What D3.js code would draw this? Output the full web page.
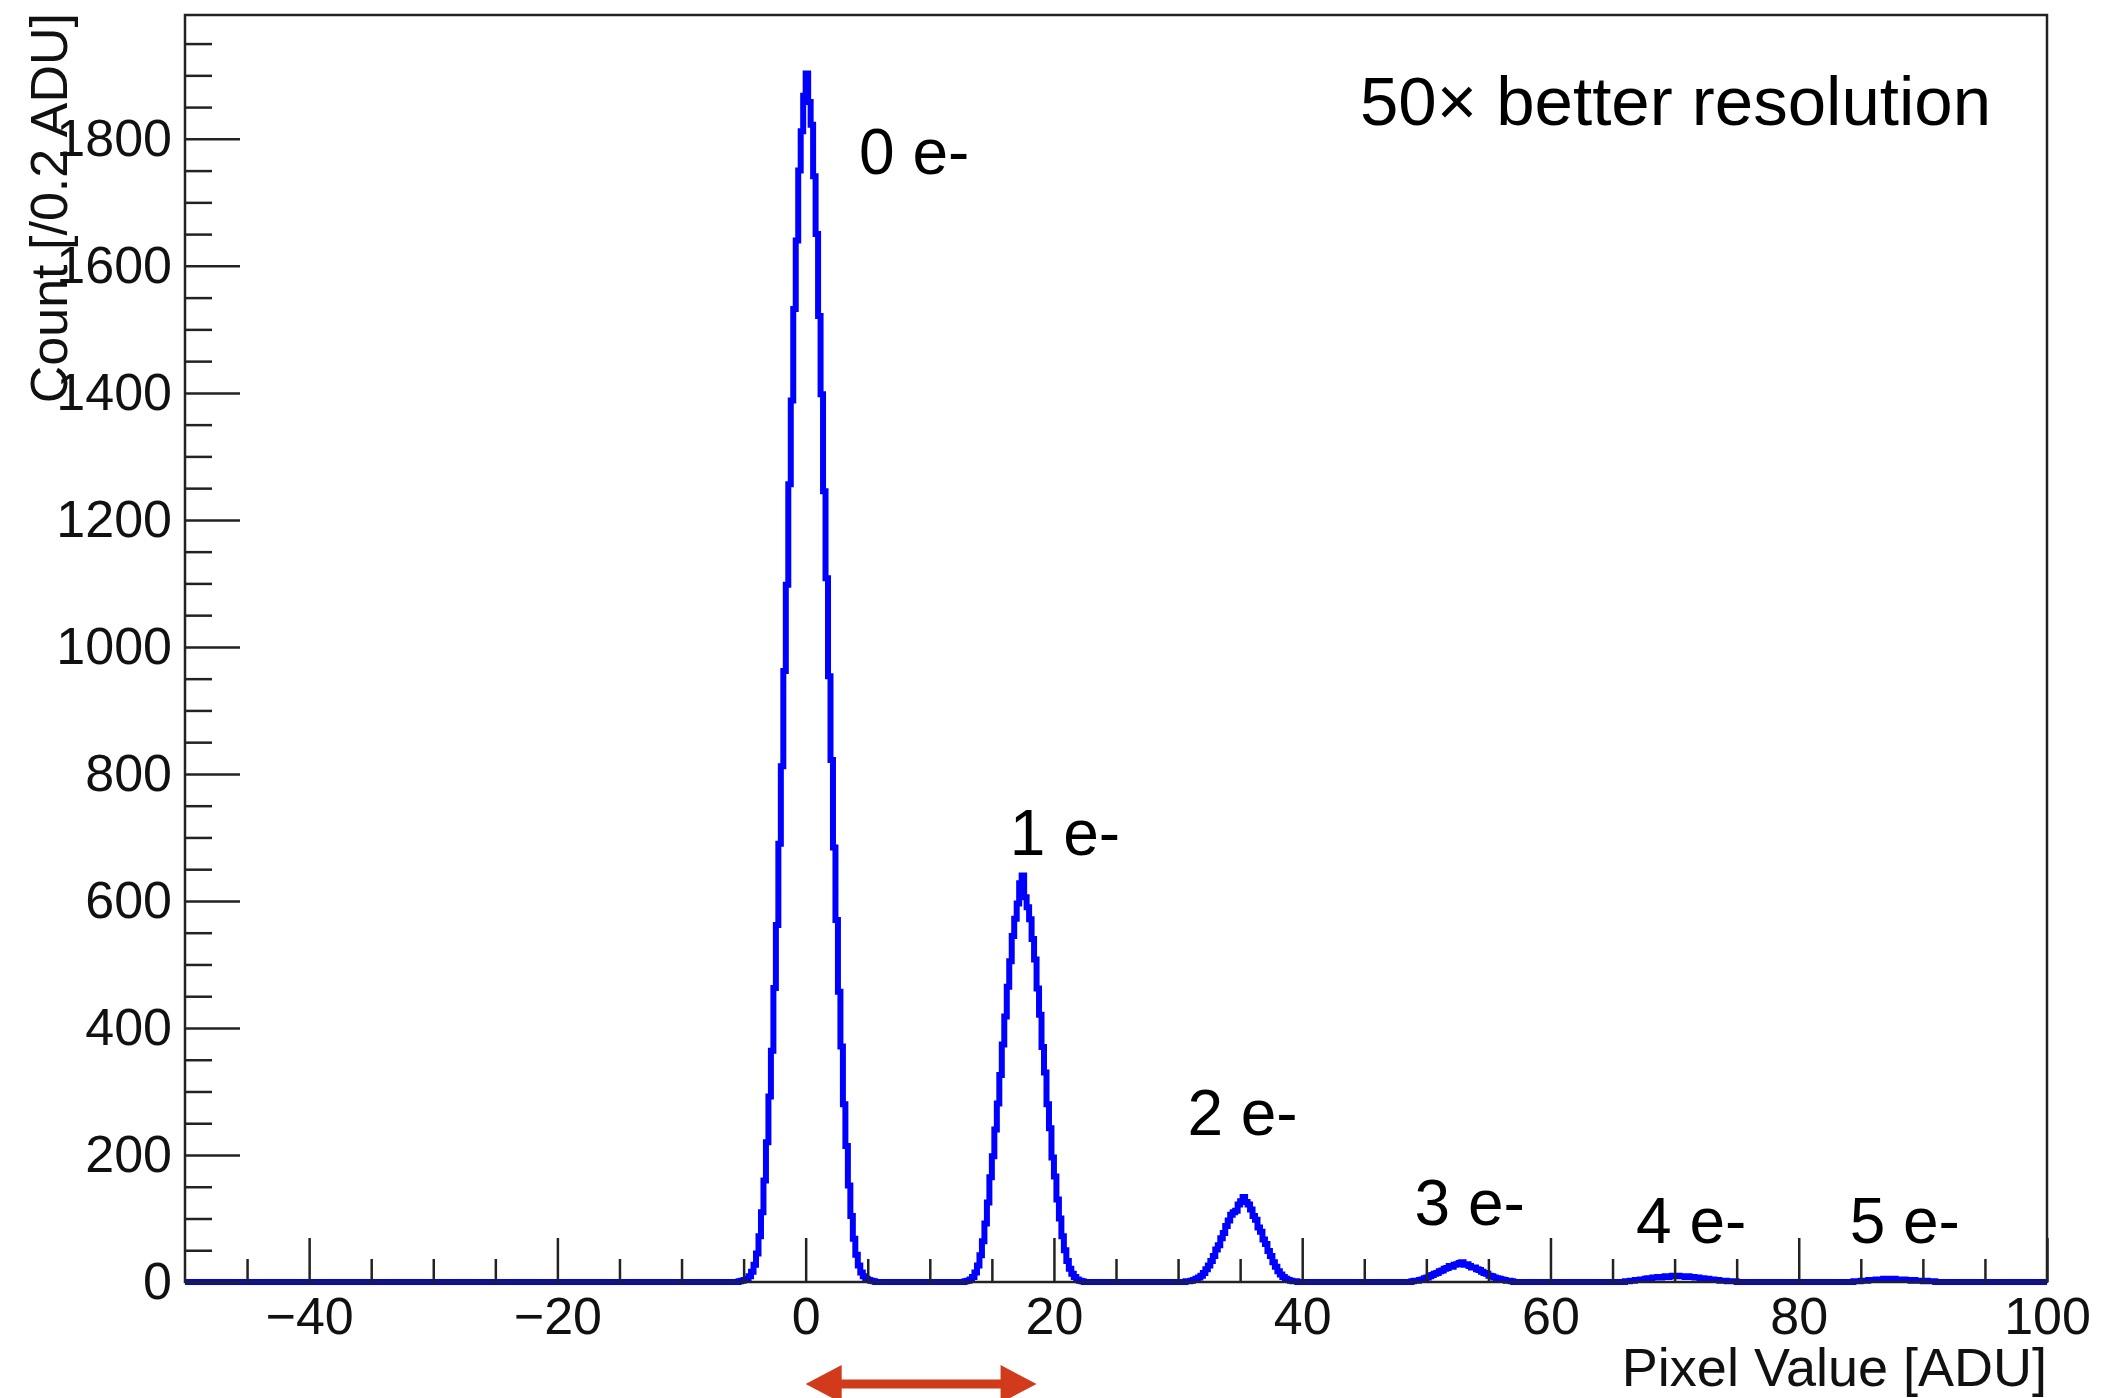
<!DOCTYPE html>
<html>
<head>
<meta charset="utf-8">
<script src="https://cdn.jsdelivr.net/npm/d3@7"></script>
<style>
body { margin: 0; background: #fff; }
svg { display: block; font-family: "Liberation Sans", Arial, Helvetica, sans-serif; }
</style>
</head>
<body>
<div id="plot"></div>
<script>

// histogram: 0.2 ADU bins, only the non-empty regions are listed
var binWidth = 0.2;
var xDom = [-50, 100];
var yDom = [0, 1995];

// left edge of the first bin of each peak region
var peakStarts = [-5.4, 12.8, 30.6, 48.8, 66.0, 84.4];

var peak0Counts = [1, 2, 3, 5, 9, 16, 27, 45, 72, 110, 160, 220, 292, 364, 463, 562, 690, 812, 962, 1098,
  1256, 1388, 1532, 1640, 1750, 1812, 1868, 1903, 1858, 1822, 1741, 1650, 1521, 1398, 1245, 1108, 954,
  822, 684, 570, 457, 371, 280, 214, 152, 104, 68, 43, 26, 15, 9, 5, 3, 2, 1];
var peak1Counts = [1, 2, 4, 8, 15, 26, 42, 64, 92, 125, 165, 198, 240, 281, 326, 374, 418, 465, 505, 545,
  572, 596, 628, 640, 606, 590, 571, 540, 508, 462, 421, 370, 330, 280, 242, 196, 166, 130, 100, 72, 50,
  33, 21, 13, 8, 4, 2, 1];
var peak2Counts = [1, 1, 2, 3, 5, 7, 10, 14, 20, 26, 33, 41, 51, 58, 69, 77, 88, 97, 106, 110, 112, 122,
  127, 134, 126, 122, 114, 104, 98, 86, 79, 67, 60, 49, 41, 31, 24, 17, 12, 8, 5, 3, 2, 1, 1];
var peak3Counts = [1, 2, 2, 3, 4, 6, 7, 9, 11, 13, 14, 17, 18, 21, 22, 25, 24, 27, 28, 30, 31, 27, 28,
  25, 23, 23, 20, 19, 16, 14, 13, 10, 9, 7, 6, 5, 4, 3, 2, 2, 1];
var peak4Counts = [1, 1, 2, 2, 3, 3, 4, 4, 5, 6, 6, 7, 7, 8, 7, 8, 9, 8, 9, 10, 9, 10, 9, 9, 8, 9, 8, 8,
  7, 7, 6, 6, 5, 5, 4, 4, 3, 3, 2, 2, 2, 1, 1, 1, 1];
var peak5Counts = [1, 1, 1, 2, 2, 2, 3, 3, 3, 4, 3, 4, 5, 4, 5, 4, 5, 4, 4, 3, 4, 3, 3, 2, 3, 2, 2, 2,
  1, 2, 1, 1, 1];

var peakLabels = ["0 e-", "1 e-", "2 e-", "3 e-", "4 e-", "5 e-"];
// label anchor in data coordinates (ADU, count)
var labelX = [4.3, 16.45, 30.75, 49.05, 66.9, 84.1];
var labelY = [1745, 672, 231, 89, 61, 61];

var arrowSpan = [0, 18.6];

var width = 2107, height = 1398;
var margin = {top: 15, right: 60, bottom: 116, left: 185};

var svg = d3.select('#plot')
  .append('svg')
  .attr('width', width)
  .attr('height', height);

svg.append('rect').attr('width', width).attr('height', height).attr('fill', '#fff');

var x = d3.scaleLinear().domain(xDom).range([margin.left, width - margin.right]);
var y = d3.scaleLinear().domain(yDom).range([height - margin.bottom, margin.top]);

// fill the bins
var nBins = Math.round((xDom[1] - xDom[0]) / binWidth);
var counts = new Array(nBins).fill(0);
[peak0Counts, peak1Counts, peak2Counts, peak3Counts, peak4Counts, peak5Counts].forEach(function(arr, k){
  var i0 = Math.round((peakStarts[k] - xDom[0]) / binWidth);
  arr.forEach(function(c, j){ counts[i0 + j] = c; });
});

var steps = counts.map(function(c, i){ return [xDom[0] + i * binWidth, c]; });
steps.push([xDom[1], counts[nBins - 1]]);

var histLine = d3.line()
  .x(function(d){ return x(d[0]); })
  .y(function(d){ return y(d[1]); })
  .curve(d3.curveStepAfter);

svg.append('path')
  .datum(steps)
  .attr('d', histLine)
  .attr('fill', 'none')
  .attr('stroke', '#0000ff')
  .attr('stroke-width', 6)
  .attr('stroke-linejoin', 'miter');

// frame
svg.append('rect')
  .attr('x', x(xDom[0]))
  .attr('y', y(yDom[1]))
  .attr('width', x(xDom[1]) - x(xDom[0]))
  .attr('height', y(yDom[0]) - y(yDom[1]))
  .attr('fill', 'none')
  .attr('stroke', '#222')
  .attr('stroke-width', 2.5);

var yMajor = d3.range(0, 1801, 200);
var yMinor = d3.range(50, yDom[1], 50).filter(function(v){ return v % 200 !== 0; });
var xMajor = d3.range(-40, 101, 20);
var xMinor = d3.range(-45, 100, 5).filter(function(v){ return v % 20 !== 0; });

svg.append('g')
  .attr('transform', 'translate(' + x(xDom[0]) + ',0)')
  .call(d3.axisLeft(y).tickValues(yMajor).tickSize(-55).tickPadding(13).tickFormat(d3.format('d')));
svg.append('g')
  .attr('transform', 'translate(' + x(xDom[0]) + ',0)')
  .call(d3.axisLeft(y).tickValues(yMinor).tickSize(-27).tickFormat(''));

svg.append('g')
  .attr('transform', 'translate(0,' + y(0) + ')')
  .call(d3.axisBottom(x).tickValues(xMajor).tickSize(-44).tickPadding(15)
    .tickFormat(function(d){ return d < 0 ? '\u2212' + (-d) : d; }));
svg.append('g')
  .attr('transform', 'translate(0,' + y(0) + ')')
  .call(d3.axisBottom(x).tickValues(xMinor).tickSize(-23).tickFormat(''));

svg.selectAll('.domain').remove();
svg.selectAll('.tick line').attr('stroke', '#222').attr('stroke-width', 2.5);
svg.selectAll('.tick text')
  .attr('fill', '#111')
  .style('font-family', '"Liberation Sans", Arial, Helvetica, sans-serif')
  .style('font-size', '52px');

// axis titles
svg.append('text')
  .attr('transform', 'translate(67,13) rotate(-90)')
  .attr('text-anchor', 'end')
  .style('font-size', '52px')
  .attr('fill', '#111')
  .text('Count [/0.2 ADU]');

svg.append('text')
  .attr('x', x(xDom[1]))
  .attr('y', 1386)
  .attr('text-anchor', 'end')
  .style('font-size', '54px')
  .attr('fill', '#111')
  .text('Pixel Value [ADU]');

// annotations
svg.selectAll('.peakLabel')
  .data(peakLabels)
  .enter().append('text')
  .attr('class', 'peakLabel')
  .attr('x', function(d, i){ return x(labelX[i]); })
  .attr('y', function(d, i){ return y(labelY[i]); })
  .style('font-size', '64px')
  .attr('fill', '#000')
  .text(function(d){ return d; });

svg.append('text')
  .attr('x', 1360)
  .attr('y', 125)
  .style('font-size', '69px')
  .attr('fill', '#000')
  .text('50\u00d7 better resolution');

// red double arrow under the axis
var ax0 = x(arrowSpan[0]), ax1 = x(arrowSpan[1]), ay = 1384;
var headL = 36, headH = 19;
svg.append('line')
  .attr('x1', ax0 + headL - 4).attr('x2', ax1 - headL + 4)
  .attr('y1', ay).attr('y2', ay)
  .attr('stroke', '#d13b1c')
  .attr('stroke-width', 9);
svg.append('path')
  .attr('d', 'M' + ax0 + ',' + ay + 'L' + (ax0 + headL) + ',' + (ay - headH) + 'L' + (ax0 + headL) + ',' + (ay + headH) + 'Z')
  .attr('fill', '#d13b1c');
svg.append('path')
  .attr('d', 'M' + ax1 + ',' + ay + 'L' + (ax1 - headL) + ',' + (ay - headH) + 'L' + (ax1 - headL) + ',' + (ay + headH) + 'Z')
  .attr('fill', '#d13b1c');

</script>
</body>
</html>
